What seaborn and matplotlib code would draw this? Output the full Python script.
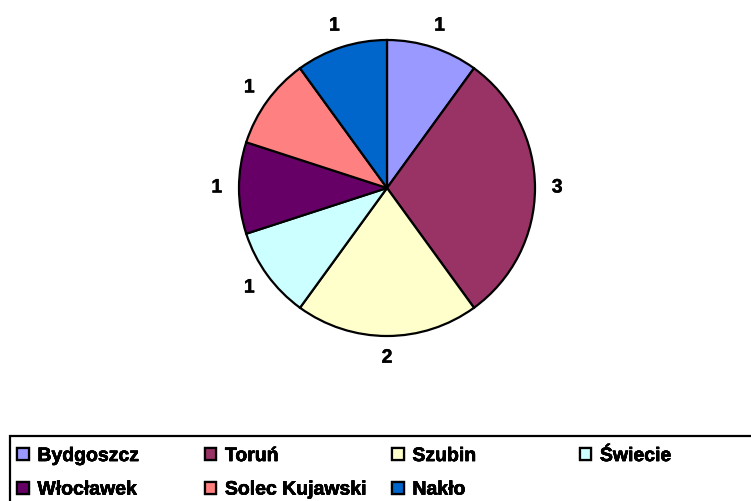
import matplotlib
matplotlib.use("Agg")
import matplotlib.pyplot as plt
import matplotlib.patheffects as pe
from matplotlib.patches import Rectangle
import seaborn as sns

# dane
miasta = ["Bydgoszcz", "Toruń", "Szubin", "Świecie", "Włocławek", "Solec Kujawski", "Nakło"]
liczba = [1, 3, 2, 1, 1, 1, 1]
kolory = ["#9999FF", "#993366", "#FFFFCC", "#CCFFFF", "#660066", "#FF8080", "#0066CC"]

sns.set_theme(style="white")
plt.rcParams["font.family"] = ["Liberation Sans", "DejaVu Sans"]
plt.rcParams["text.color"] = "black"
paleta = sns.color_palette(kolory)
pogrub = [pe.withStroke(linewidth=0.3, foreground="black")]

W, H = 751, 502
fig = plt.figure(figsize=(W / 100, H / 100), dpi=100)

# wykres kołowy - srodek (387, 189), promien 148 px
cx, cy, r = 387, 189, 148
ax = fig.add_axes([(cx - r) / W, (H - cy - r) / H, 2 * r / W, 2 * r / H])
wedges, texts = ax.pie(
    liczba,
    colors=paleta,
    startangle=90,
    counterclock=False,
    labels=[str(v) for v in liczba],
    labeldistance=1.15,
    wedgeprops=dict(edgecolor="black", linewidth=1.6),
    textprops=dict(fontsize=14, fontweight="bold", color="black"),
)
for t in texts:
    t.set_horizontalalignment("center")
    t.set_verticalalignment("center")
    t.set_path_effects(pogrub)
ax.set_xlim(-1, 1)
ax.set_ylim(-1, 1)
ax.set_aspect("equal")
ax.axis("off")

# ramka legendy
fig.patches.append(Rectangle((10 / W, -0.1), 1.2, (H - 437) / H + 0.1,
                             transform=fig.transFigure, fill=False,
                             edgecolor="black", linewidth=1.6))

# legenda w 4 kolumnach
kolumny = [[0, 4], [1, 5], [2, 6], [3]]
for i, idx in enumerate(kolumny):
    leg = fig.legend(
        [wedges[k] for k in idx], [miasta[k] for k in idx],
        loc="upper left",
        bbox_to_anchor=((17 + i * 187.5) / W, (H - 449) / H),
        frameon=False,
        handlelength=0.6, handleheight=0.6, handletextpad=0.45,
        labelspacing=0.85, borderpad=0, borderaxespad=0,
        prop=dict(size=14, weight="bold"),
    )
    for t in leg.get_texts():
        t.set_path_effects(pogrub)
    fig.add_artist(leg)

fig.savefig("out.png", dpi=100, facecolor="white")
